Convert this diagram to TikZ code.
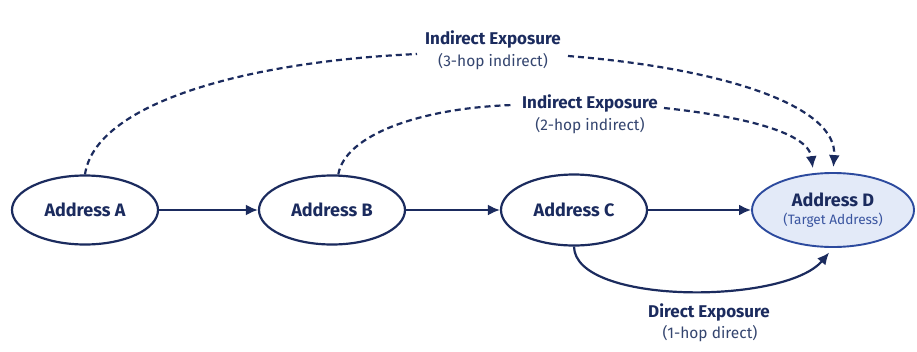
\documentclass[tikz,border=0pt]{standalone}
\usepackage{fontspec}
\setmainfont{Fira Sans}
\usetikzlibrary{arrows.meta,shapes.geometric}
\definecolor{navy}{HTML}{1B2B5E}
\definecolor{subnavy}{HTML}{34456F}
\definecolor{targetline}{HTML}{2C4A9E}
\definecolor{targetfill}{HTML}{E3EAF8}
\definecolor{targettext}{HTML}{3A55A0}
\tikzset{
  addr/.style={ellipse, draw=navy, line width=2.2pt, fill=white, inner sep=0pt,
    minimum width=146pt, minimum height=69pt, text=navy,
    font=\fontsize{18}{20}\selectfont\bfseries},
  target/.style={addr, draw=targetline, fill=targetfill, line width=1.9pt,
    minimum width=162pt, minimum height=74pt, align=center},
  flow/.style={draw=navy, line width=2.2pt, -{Latex[length=12pt,width=11pt]}},
  hop/.style={draw=navy, line width=2.2pt, dash pattern=on 6pt off 4pt},
  hoparrow/.style={hop, -{Latex[length=12pt,width=11pt]}},
  ttl/.style={text=navy, font=\fontsize{17}{19}\selectfont\bfseries, inner sep=0pt},
  sub/.style={text=subnavy, font=\fontsize{15.5}{18}\selectfont, inner sep=0pt}
}
\begin{document}
\begin{tikzpicture}[x=1pt,y=-1pt]
  \useasboundingbox[fill=white] (0,0) rectangle (917,351);

  % addresses along the transaction chain
  \node[addr] (A) at (85,210) {Address A};
  \node[addr] (B) at (332,210) {Address B};
  \node[addr, minimum height=71pt] (C) at (574,210) {Address C};
  \node[target] (D) at (833,210) {Address D\\[-2pt]
    {\fontsize{13.6}{15}\selectfont\mdseries\color{targettext}(Target Address)}};

  % direct transfers
  \draw[flow] (A) -- (B);
  \draw[flow] (B) -- (C);
  \draw[flow] (C) -- (D);

  % exposure labels
  \node[ttl] (t3) at (493,39) {Indirect Exposure};
  \node[sub] (s3) at (493,62) {(3-hop indirect)};
  \node[ttl] (t2) at (590,103) {Indirect Exposure};
  \node[sub] (s2) at (590,126) {(2-hop indirect)};
  \node[ttl] (t1) at (709,312) {Direct Exposure};
  \node[sub] (s1) at (710,334) {(1-hop direct)};

  % gaps in the dashed paths around the labels
  \coordinate (g3a) at (417,54);
  \coordinate (g3b) at (568,56);
  \coordinate (g2a) at (513,105);
  \coordinate (g2b) at (664,108);

  % 3-hop indirect path
  \draw[hop] (A.north) .. controls (95,105) and (240,62) .. (g3a);
  \draw[hoparrow, shorten >=5pt] (g3b) .. controls (720,68) and (838,105) .. (D.north);

  % 2-hop indirect path
  \draw[hop] (B.80) .. controls (345,135) and (420,108) .. (g2a);
  \draw[hoparrow, shorten >=5pt] (g2b) .. controls (730,115) and (808,130) .. (D.118);

  % 1-hop direct path
  \draw[flow, shorten >=6pt] (C.south) .. controls (575,305) and (785,305) .. (D.south);
\end{tikzpicture}
\end{document}
